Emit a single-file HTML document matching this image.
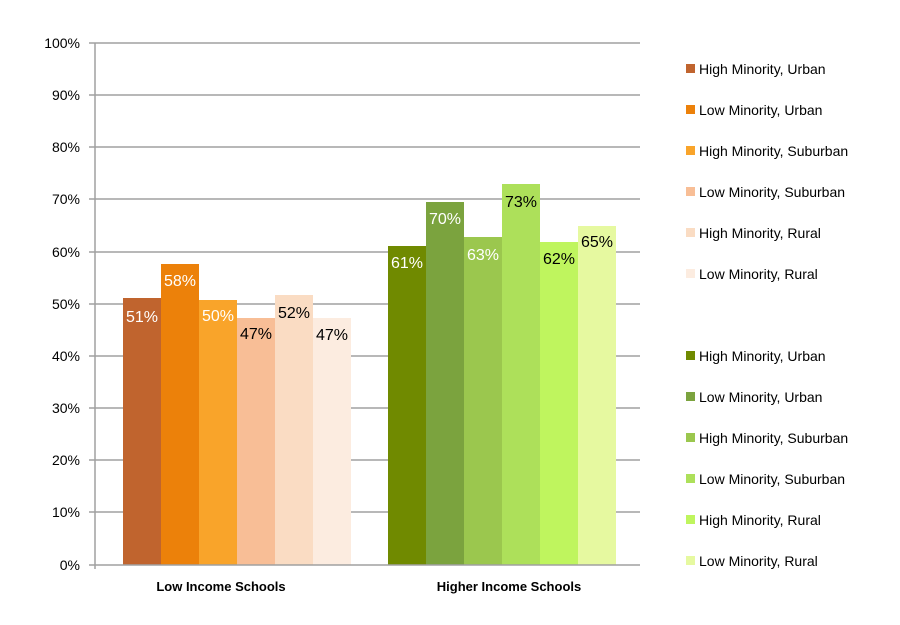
<!DOCTYPE html>
<html><head><style>body{margin:0;background:#fff}svg{display:block}text{font-family:"Liberation Sans",sans-serif}</style></head>
<body>
<svg width="900" height="625" viewBox="0 0 900 625">
<g stroke="#a0a0a0" stroke-width="1.5">
<line x1="89" x2="640" y1="43" y2="43"/><line x1="89" x2="640" y1="95" y2="95"/>
<line x1="89" x2="640" y1="147" y2="147"/><line x1="89" x2="640" y1="199" y2="199"/>
<line x1="89" x2="640" y1="252" y2="252"/><line x1="89" x2="640" y1="304" y2="304"/>
<line x1="89" x2="640" y1="356" y2="356"/><line x1="89" x2="640" y1="408" y2="408"/>
<line x1="89" x2="640" y1="460" y2="460"/><line x1="89" x2="640" y1="512" y2="512"/>
<line x1="95" x2="95" y1="43" y2="569"/>
</g>
<g font-size="14" fill="#000" text-anchor="end">
<text x="80" y="48">100%</text><text x="80" y="100">90%</text><text x="80" y="152">80%</text>
<text x="80" y="204">70%</text><text x="80" y="257">60%</text><text x="80" y="309">50%</text>
<text x="80" y="361">40%</text><text x="80" y="413">30%</text><text x="80" y="465">20%</text>
<text x="80" y="517">10%</text><text x="80" y="570">0%</text>
</g>
<g>
<rect x="123" y="298" width="38" height="267" fill="#C0642E"/>
<rect x="161" y="264" width="38" height="301" fill="#EC810A"/>
<rect x="199" y="300" width="38" height="265" fill="#F9A42A"/>
<rect x="237" y="318" width="38" height="247" fill="#F8BE96"/>
<rect x="275" y="295" width="38" height="270" fill="#FADCC3"/>
<rect x="313" y="318" width="38" height="247" fill="#FCECE0"/>
<rect x="388" y="246" width="38" height="319" fill="#708A00"/>
<rect x="426" y="202" width="38" height="363" fill="#7BA33E"/>
<rect x="464" y="237" width="38" height="328" fill="#9BC74E"/>
<rect x="502" y="184" width="38" height="381" fill="#ADE05A"/>
<rect x="540" y="242" width="38" height="323" fill="#BFF55E"/>
<rect x="578" y="226" width="38" height="339" fill="#E6F9A0"/>
</g>
<line x1="89" x2="640" y1="565" y2="565" stroke="#a0a0a0" stroke-width="1.5"/>
<g font-size="16" text-anchor="middle">
<text x="142" y="322" fill="#fff">51%</text>
<text x="180" y="286" fill="#fff">58%</text>
<text x="218" y="321" fill="#fff">50%</text>
<text x="256" y="339" fill="#000">47%</text>
<text x="294" y="318" fill="#000">52%</text>
<text x="332" y="340" fill="#000">47%</text>
<text x="407" y="268" fill="#fff">61%</text>
<text x="445" y="224" fill="#fff">70%</text>
<text x="483" y="260" fill="#fff">63%</text>
<text x="521" y="207" fill="#000">73%</text>
<text x="559" y="264" fill="#000">62%</text>
<text x="597" y="247" fill="#000">65%</text>
</g>
<g font-size="13" font-weight="bold" text-anchor="middle">
<text x="221" y="591">Low Income Schools</text>
<text x="509" y="591">Higher Income Schools</text>
</g>
<g font-size="14" fill="#000">
<rect x="686" y="64" width="9" height="9" fill="#C0642E"/><text x="699" y="74">High Minority, Urban</text>
<rect x="686" y="105" width="9" height="9" fill="#EC810A"/><text x="699" y="115">Low Minority, Urban</text>
<rect x="686" y="146" width="9" height="9" fill="#F9A42A"/><text x="699" y="156">High Minority, Suburban</text>
<rect x="686" y="187" width="9" height="9" fill="#F8BE96"/><text x="699" y="197">Low Minority, Suburban</text>
<rect x="686" y="228" width="9" height="9" fill="#FADCC3"/><text x="699" y="238">High Minority, Rural</text>
<rect x="686" y="269" width="9" height="9" fill="#FCECE0"/><text x="699" y="279">Low Minority, Rural</text>
<rect x="686" y="351" width="9" height="9" fill="#708A00"/><text x="699" y="361">High Minority, Urban</text>
<rect x="686" y="392" width="9" height="9" fill="#7BA33E"/><text x="699" y="402">Low Minority, Urban</text>
<rect x="686" y="433" width="9" height="9" fill="#9BC74E"/><text x="699" y="443">High Minority, Suburban</text>
<rect x="686" y="474" width="9" height="9" fill="#ADE05A"/><text x="699" y="484">Low Minority, Suburban</text>
<rect x="686" y="515" width="9" height="9" fill="#BFF55E"/><text x="699" y="525">High Minority, Rural</text>
<rect x="686" y="556" width="9" height="9" fill="#E6F9A0"/><text x="699" y="566">Low Minority, Rural</text>
</g>
</svg>
</body></html>
